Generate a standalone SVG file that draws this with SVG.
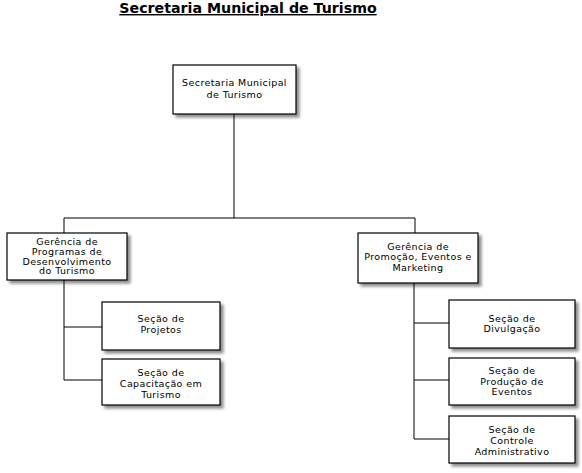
<svg xmlns="http://www.w3.org/2000/svg" width="582" height="473" viewBox="0 0 582 473">
<defs>
<filter id="sh" x="-10%" y="-10%" width="130%" height="140%">
<feGaussianBlur in="SourceAlpha" stdDeviation="1.5"/>
<feOffset dx="3" dy="3" result="b"/>
<feComponentTransfer><feFuncA type="linear" slope="0.45"/></feComponentTransfer>
<feMerge><feMergeNode/><feMergeNode in="SourceGraphic"/></feMerge>
</filter>
</defs>
<style>
.box{fill:#fff;stroke:#000;stroke-width:1.2;filter:url(#sh)}
.t{font-family:"DejaVu Sans",sans-serif;font-size:9.5px;letter-spacing:0.4px;text-anchor:middle;fill:#000}
.c{stroke:#000;stroke-width:1;fill:none}
.title{font-family:"DejaVu Sans",sans-serif;font-size:14.2px;font-weight:bold;text-anchor:middle;text-decoration:underline}
</style>
<rect width="582" height="473" fill="#fff"/>
<text class="title" x="248" y="13">Secretaria Municipal de Turismo</text>
<g id="connectors">
<path class="c" d="M234 114V218M64 218H415M64 218V234M415 218V234"/>
<path class="c" d="M64 280V380M64 327H102M64 380H102"/>
<path class="c" d="M414 283V439M414 323H449M414 380H449M414 439H449"/>
</g>
<g id="n_secretaria"><rect class="box" x="173" y="65" width="123" height="49"/>
<text class="t" x="234.5" y="86">Secretaria Municipal</text><text class="t" x="234.5" y="98">de Turismo</text></g>
<g id="n_gerencia_prog"><rect class="box" x="7" y="233" width="120" height="47"/>
<text class="t" x="67" y="245">Gerência de</text><text class="t" x="67" y="255">Programas de</text><text class="t" x="67" y="264.5">Desenvolvimento</text><text class="t" x="67" y="274">do Turismo</text></g>
<g id="n_gerencia_prom"><rect class="box" x="358" y="233" width="120" height="50"/>
<text class="t" x="418" y="249.5">Gerência  de</text><text class="t" x="418" y="260">Promoção, Eventos e</text><text class="t" x="418" y="271">Marketing</text></g>
<g id="n_projetos"><rect class="box" x="102" y="302" width="118" height="48"/>
<text class="t" x="161" y="322">Seção de</text><text class="t" x="161" y="332.5">Projetos</text></g>
<g id="n_capacitacao"><rect class="box" x="102" y="359" width="118" height="46"/>
<text class="t" x="161" y="376">Seção de</text><text class="t" x="161" y="387">Capacitação em</text><text class="t" x="161" y="397.5">Turismo</text></g>
<g id="n_divulgacao"><rect class="box" x="449" y="300" width="126" height="48"/>
<text class="t" x="512" y="321.5">Seção de</text><text class="t" x="512" y="332">Divulgação</text></g>
<g id="n_producao"><rect class="box" x="449" y="358" width="126" height="47"/>
<text class="t" x="512" y="374">Seção de</text><text class="t" x="512" y="384.5">Produção de</text><text class="t" x="512" y="395">Eventos</text></g>
<g id="n_controle"><rect class="box" x="449" y="416" width="126" height="47"/>
<text class="t" x="512" y="433">Seção de</text><text class="t" x="512" y="444">Controle</text><text class="t" x="512" y="455">Administrativo</text></g>
</svg>
